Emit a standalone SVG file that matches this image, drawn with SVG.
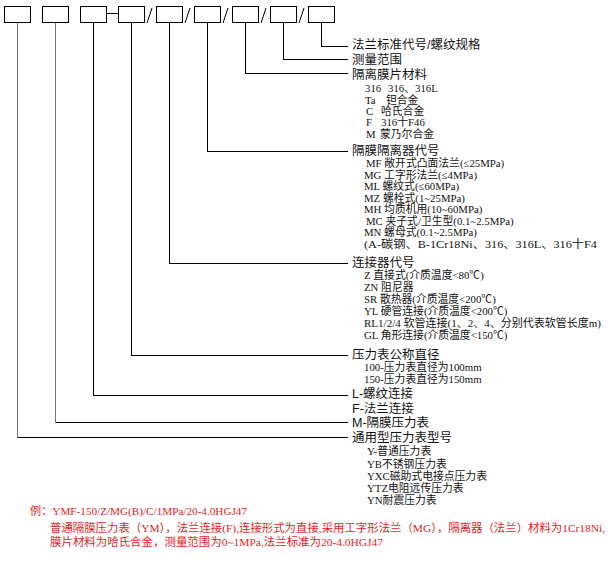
<svg xmlns="http://www.w3.org/2000/svg" width="608" height="562" viewBox="0 0 608 562">
<style>
.box{fill:#fff;stroke:#000;stroke-width:1;shape-rendering:crispEdges}
.ln{fill:none;stroke:#000;stroke-width:1;shape-rendering:crispEdges}
.gl{fill:none;stroke:#777;stroke-width:1.3;shape-rendering:crispEdges}
.sl{stroke:#000;stroke-width:1}
.h{font-family:"Liberation Sans","Noto Sans CJK SC",sans-serif;font-size:12.5px;fill:#111}
.s{font-family:"Liberation Serif","Noto Sans CJK SC",serif;font-size:10.8px;fill:#111}
.r{font-family:"Liberation Serif","Noto Sans CJK SC",serif;font-size:11px;fill:#e01e1e}
</style>
<rect width="608" height="562" fill="#fff"/>
<g id="boxes">
<g id="box1"><rect class="box" x="4.5" y="6.5" width="26" height="16"/></g>
<g id="box2"><rect class="box" x="42.5" y="6.5" width="26" height="16"/></g>
<g id="box3"><rect class="box" x="80.5" y="6.5" width="26" height="16"/></g>
<g id="box4"><rect class="box" x="118.5" y="6.5" width="26" height="16"/></g>
<g id="box5"><rect class="box" x="156.5" y="6.5" width="26" height="16"/></g>
<g id="box6"><rect class="box" x="194.5" y="6.5" width="26" height="16"/></g>
<g id="box7"><rect class="box" x="232.5" y="6.5" width="26" height="16"/></g>
<g id="box8"><rect class="box" x="270.5" y="6.5" width="26" height="16"/></g>
<g id="box9"><rect class="box" x="308.5" y="6.5" width="26" height="16"/></g>
<g id="separators">
<line class="ln" x1="106.5" y1="13.5" x2="118.5" y2="13.5"/>
<line class="sl" x1="147" y1="23" x2="152" y2="8"/>
<line class="sl" x1="185" y1="23" x2="190" y2="8"/>
<line class="sl" x1="223" y1="23" x2="228" y2="8"/>
<line class="sl" x1="261" y1="23" x2="266" y2="8"/>
<line class="sl" x1="299" y1="23" x2="304" y2="8"/>
</g>
</g>
<g id="connectors">
<path class="gl" d="M17.5,22.5 V437.5"/><path class="ln" d="M17.5,437.5 H348"/>
<path class="gl" d="M55.5,22.5 V422.5"/><path class="ln" d="M55.5,422.5 H348"/>
<path class="ln" d="M93.5,22.5 V395.5 H348"/>
<path class="ln" d="M131.5,22.5 V355.5 H348"/>
<path class="ln" d="M169.5,22.5 V263.5 H348"/>
<path class="ln" d="M207.5,22.5 V151.5 H348"/>
<path class="ln" d="M245.5,22.5 V73.5 H348"/>
<path class="ln" d="M283.5,22.5 V59.5 H348"/>
<path class="ln" d="M321.5,22.5 V46.5 H348"/>
</g>
<g id="label9"><text class="h" x="352" y="49">法兰标准代号/螺纹规格</text></g>
<g id="label8"><text class="h" x="352" y="64">测量范围</text></g>
<g id="label7">
<text class="h" x="352" y="78.5">隔离膜片材料</text>
<text class="s" x="365" y="92">316<tspan x="388">316、316L</tspan></text>
<text class="s" x="365" y="104">Ta<tspan x="386">钽合金</tspan></text>
<text class="s" x="366" y="115">C<tspan x="381">哈氏合金</tspan></text>
<text class="s" x="366" y="126">F<tspan x="381">316十F46</tspan></text>
<text class="s" x="366" y="138">M<tspan x="380">蒙乃尔合金</tspan></text>
</g>
<g id="label6">
<text class="h" x="352" y="155">隔膜隔离器代号</text>
<text class="s" x="366" y="167">MF 敞开式凸面法兰(≤25MPa)</text>
<text class="s" x="364" y="179">MG 工字形法兰(≤4MPa)</text>
<text class="s" x="364" y="190">ML 螺纹式(≤60MPa)</text>
<text class="s" x="364" y="202">MZ 螺栓式(1~25MPa)</text>
<text class="s" x="364" y="213">MH 均质机用(10~60MPa)</text>
<text class="s" x="366" y="225">MC 夹子式/卫生型(0.1~2.5MPa)</text>
<text class="s" x="364" y="236">MN 螺母式(0.1~2.5MPa)</text>
<text class="s" x="364" y="248" textLength="233" lengthAdjust="spacingAndGlyphs">(A-碳钢、B-1Cr18Ni、316、316L、316十F4</text>
</g>
<g id="label5">
<text class="h" x="352" y="267">连接器代号</text>
<text class="s" x="364" y="279">Z 直接式(介质温度&lt;80℃)</text>
<text class="s" x="364" y="291">ZN 阻尼器</text>
<text class="s" x="364" y="303">SR 散热器(介质温度&lt;200℃)</text>
<text class="s" x="364" y="315">YL 硬管连接(介质温度&lt;200℃)</text>
<text class="s" x="364" y="327" textLength="237" lengthAdjust="spacingAndGlyphs">RL1/2/4 软管连接(1、2、4、分别代表软管长度m)</text>
<text class="s" x="364" y="339">GL 角形连接(介质温度&lt;150℃)</text>
</g>
<g id="label4">
<text class="h" x="352" y="358.5">压力表公称直径</text>
<text class="s" x="364" y="370.5">100-压力表直径为100mm</text>
<text class="s" x="364" y="382.5">150-压力表直径为150mm</text>
</g>
<g id="label3">
<text class="h" x="352" y="398">L-螺纹连接</text>
<text class="h" x="352" y="412.5">F-法兰连接</text>
</g>
<g id="label2"><text class="h" x="352" y="427">M-隔膜压力表</text></g>
<g id="label1">
<text class="h" x="352" y="442">通用型压力表型号</text>
<text class="s" x="367" y="455">Y-普通压力表</text>
<text class="s" x="367" y="467.5">YB不锈钢压力表</text>
<text class="s" x="367" y="480">YXC磁助式电接点压力表</text>
<text class="s" x="367" y="492">YTZ电阻远传压力表</text>
<text class="s" x="367" y="504">YN耐震压力表</text>
</g>
<g id="example">
<text class="r" x="30" y="515" textLength="217" lengthAdjust="spacingAndGlyphs">例：YMF-150/Z/MG(B)/C/1MPa/20-4.0HGJ47</text>
<text class="r" x="50" y="532" textLength="555" lengthAdjust="spacingAndGlyphs">普通隔膜压力表（YM），法兰连接(F),连接形式为直接,采用工字形法兰（MG），隔离器（法兰）材料为1Cr18Ni,</text>
<text class="r" x="50" y="546" textLength="333" lengthAdjust="spacingAndGlyphs">膜片材料为哈氏合金，测量范围为0~1MPa,法兰标准为20-4.0HGJ47</text>
</g>
</svg>
